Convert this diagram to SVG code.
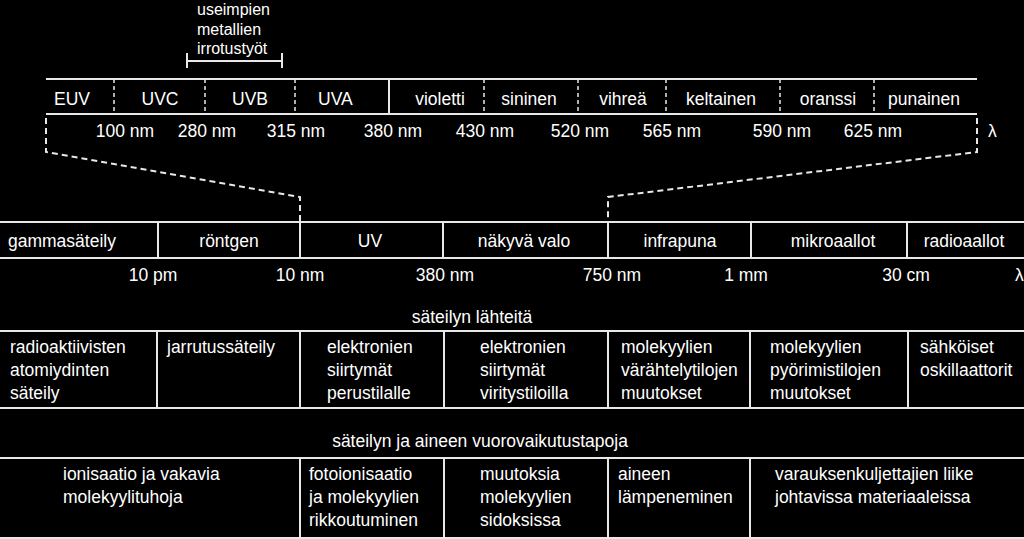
<svg xmlns="http://www.w3.org/2000/svg" width="1024" height="539" viewBox="0 0 1024 539">
<style>
text{font-family:"Liberation Sans",Arial,sans-serif;font-size:17.5px;fill:#fff}
.m{text-anchor:middle}
line,path{stroke:#e8e8e8;stroke-width:2;fill:none}
.d{stroke-dasharray:4 3;stroke-width:1.5}
.dl{stroke-dasharray:6 4}
.s{font-size:16px}
</style>
<rect width="1024" height="539" fill="#000"/>
<g id="connectors">
<path class="dl" d="M46 118 V152 L300 197 V222"/>
<path class="dl" d="M977 118 V152 L608 197 V222"/>
<path d="M187 53 V68 M187 61 H282 M282 53 V68"/>
</g>
<g id="visible-bar">
<line x1="46" y1="79" x2="977" y2="79"/><line x1="46" y1="114" x2="977" y2="114"/>
<line class="d" x1="114" y1="79" x2="114" y2="114"/><line class="d" x1="205" y1="79" x2="205" y2="114"/>
<line class="d" x1="295" y1="79" x2="295" y2="114"/><line x1="389" y1="79" x2="389" y2="114"/>
<line class="d" x1="484" y1="79" x2="484" y2="114"/><line class="d" x1="578" y1="79" x2="578" y2="114"/>
<line class="d" x1="666" y1="79" x2="666" y2="114"/><line class="d" x1="780" y1="79" x2="780" y2="114"/>
<line class="d" x1="874" y1="79" x2="874" y2="114"/>
<text x="54" y="105">EUV</text><text class="m" x="160" y="105">UVC</text><text class="m" x="250" y="105">UVB</text>
<text x="318" y="105">UVA</text><text class="m" x="440" y="105">violetti</text><text class="m" x="529" y="105">sininen</text>
<text class="m" x="623" y="105">vihreä</text><text class="m" x="721" y="105">keltainen</text><text class="m" x="828" y="105">oranssi</text>
<text class="m" x="924" y="105">punainen</text>
<text class="m" x="125" y="137">100 nm</text><text class="m" x="207" y="137">280 nm</text><text class="m" x="296" y="137">315 nm</text>
<text class="m" x="393" y="137">380 nm</text><text class="m" x="485" y="137">430 nm</text><text class="m" x="580" y="137">520 nm</text>
<text class="m" x="672" y="137">565 nm</text><text class="m" x="782" y="137">590 nm</text><text class="m" x="873" y="137">625 nm</text>
<text x="988" y="137">λ</text>
<text class="s" x="197" y="15">useimpien</text><text class="s" x="197" y="35">metallien</text><text class="s" x="197" y="54">irrotustyöt</text>
</g>
<g id="spectrum-bar">
<line x1="0" y1="222" x2="1024" y2="222"/><line x1="0" y1="258" x2="1024" y2="258"/>
<line x1="158" y1="222" x2="158" y2="258"/><line x1="300" y1="222" x2="300" y2="258"/><line x1="443" y1="222" x2="443" y2="258"/>
<line x1="608" y1="222" x2="608" y2="258"/><line x1="751" y1="222" x2="751" y2="258"/><line x1="907" y1="222" x2="907" y2="258"/>
<text x="8" y="247">gammasäteily</text><text class="m" x="229" y="247">röntgen</text><text class="m" x="370" y="247">UV</text>
<text class="m" x="524" y="247">näkyvä valo</text><text class="m" x="680" y="247">infrapuna</text><text class="m" x="833" y="247">mikroaallot</text>
<text class="m" x="964" y="247">radioaallot</text>
<text class="m" x="153" y="281">10 pm</text><text class="m" x="300" y="281">10 nm</text><text class="m" x="445" y="281">380 nm</text>
<text class="m" x="612" y="281">750 nm</text><text class="m" x="746" y="281">1 mm</text><text class="m" x="906" y="281">30 cm</text>
<text x="1015" y="281">λ</text>
</g>
<g id="sources">
<text class="m" x="472" y="323">säteilyn lähteitä</text>
<line x1="0" y1="331" x2="1024" y2="331"/><line x1="0" y1="408" x2="1024" y2="408"/>
<line x1="157" y1="331" x2="157" y2="408"/><line x1="300" y1="331" x2="300" y2="408"/><line x1="444" y1="331" x2="444" y2="408"/>
<line x1="608" y1="331" x2="608" y2="408"/><line x1="750" y1="331" x2="750" y2="408"/><line x1="908" y1="331" x2="908" y2="408"/>
<text x="10" y="353">radioaktiivisten</text><text x="10" y="376">atomiydinten</text><text x="10" y="399">säteily</text>
<text x="167" y="353">jarrutussäteily</text>
<text x="327" y="353">elektronien</text><text x="327" y="376">siirtymät</text><text x="327" y="399">perustilalle</text>
<text x="480" y="353">elektronien</text><text x="480" y="376">siirtymät</text><text x="480" y="399">viritystiloilla</text>
<text x="621" y="353">molekyylien</text><text x="621" y="376">värähtelytilojen</text><text x="621" y="399">muutokset</text>
<text x="770" y="353">molekyylien</text><text x="770" y="376">pyörimistilojen</text><text x="770" y="399">muutokset</text>
<text x="920" y="353">sähköiset</text><text x="920" y="376">oskillaattorit</text>
</g>
<g id="interactions">
<text class="m" x="480" y="447">säteilyn ja aineen vuorovaikutustapoja</text>
<line x1="0" y1="458" x2="1024" y2="458"/><line x1="0" y1="538" x2="1024" y2="538"/>
<line x1="300" y1="458" x2="300" y2="538"/><line x1="444" y1="458" x2="444" y2="538"/>
<line x1="608" y1="458" x2="608" y2="538"/><line x1="750" y1="458" x2="750" y2="538"/>
<text x="63" y="480">ionisaatio ja vakavia</text><text x="63" y="503">molekyylituhoja</text>
<text x="309" y="480">fotoionisaatio</text><text x="309" y="503">ja molekyylien</text><text x="309" y="526">rikkoutuminen</text>
<text x="480" y="480">muutoksia</text><text x="480" y="503">molekyylien</text><text x="480" y="526">sidoksissa</text>
<text x="618" y="480">aineen</text><text x="618" y="503">lämpeneminen</text>
<text x="775" y="480">varauksenkuljettajien liike</text><text x="775" y="503">johtavissa materiaaleissa</text>
</g>
</svg>
